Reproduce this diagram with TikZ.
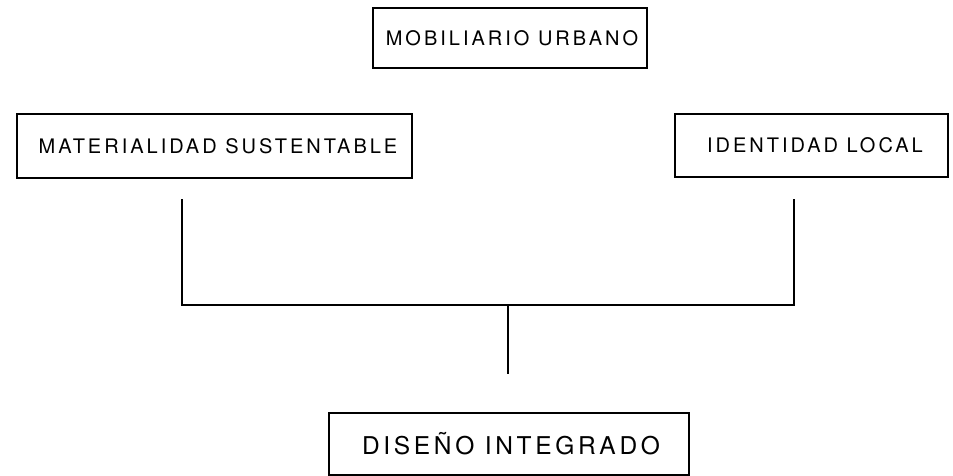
\documentclass[tikz,border=0pt]{standalone}
\usepackage{fontspec}
\setmainfont{TeX Gyre Heros}
\newfontfamily\spaced[LetterSpace=15]{TeX Gyre Heros}
\begin{document}
\begin{tikzpicture}[x=1pt,y=-1pt,
  box/.style={draw, line width=2pt, inner sep=0pt, anchor=center, font=\spaced},
  conn/.style={line width=2pt}]
\useasboundingbox (0,0) rectangle (953,476);
\node[box, minimum width=274pt, minimum height=60pt, font=\spaced\fontsize{20}{24}\selectfont] (mob) at (510,38) {\hspace{4pt}MOBILIARIO URBANO};
\node[box, minimum width=395pt, minimum height=64pt, font=\spaced\fontsize{20}{24}\selectfont] (mat) at (214.5,146) {\hspace{7pt}MATERIALIDAD SUSTENTABLE};
\node[box, minimum width=273pt, minimum height=63pt, font=\spaced\fontsize{20}{24}\selectfont] (ide) at (811.5,145.5) {\hspace{7pt}IDENTIDAD LOCAL};
\node[box, minimum width=360pt, minimum height=62pt, font=\spaced\fontsize{24.5}{28}\selectfont] (dis) at (509,444) {\hspace{4pt}DISEÑO INTEGRADO};
\coordinate (l1) at (182,199);
\coordinate (l2) at (182,305);
\coordinate (r1) at (794,199);
\coordinate (r2) at (794,305);
\coordinate (m1) at (508,305);
\coordinate (m2) at (508,374);
\draw[conn, line join=miter] (l1) -- (l2) -- (r2) -- (r1);
\draw[conn] (m1) -- (m2);
\end{tikzpicture}
\end{document}
